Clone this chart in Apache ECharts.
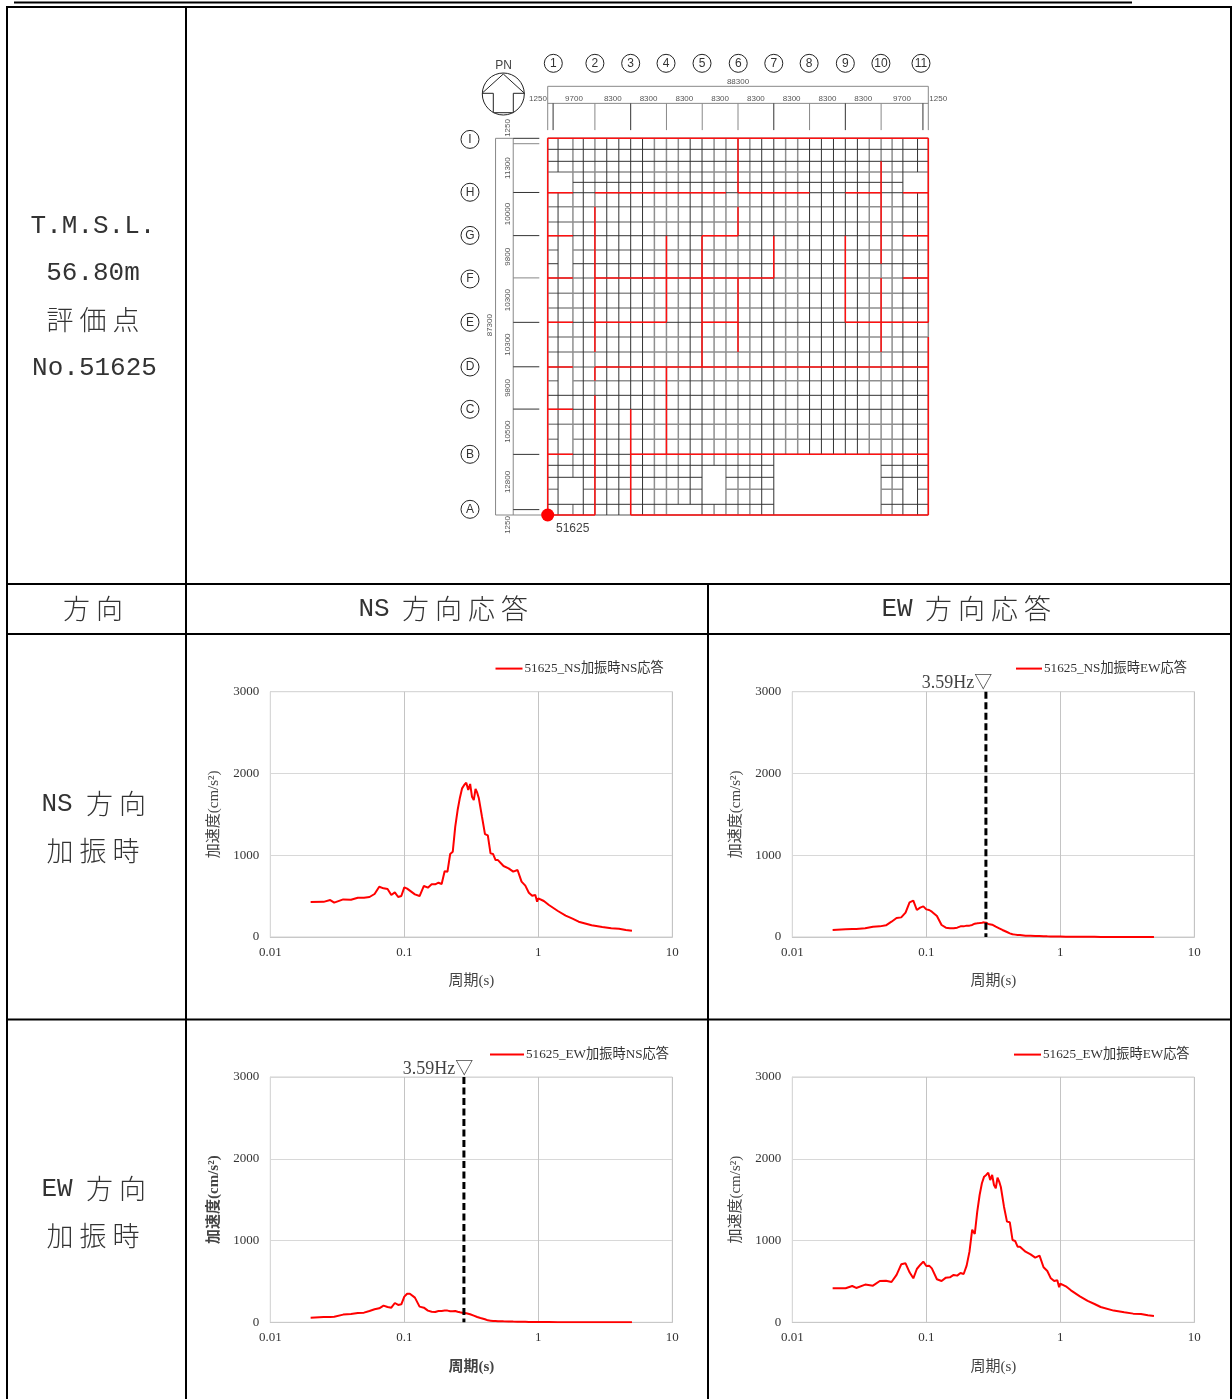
<!DOCTYPE html>
<html><head><meta charset="utf-8">
<style>html,body{margin:0;padding:0;background:#fff}#c{width:1232px;height:1399px}</style>
<script src="https://cdn.jsdelivr.net/npm/echarts@6/dist/echarts.min.js"></script>
</head><body><div id="c"></div>
<script>
// ---------- spectra ----------
const periods=[0.02,0.025,0.028,0.03,0.035,0.04,0.045,0.05,0.055,0.06,0.065,0.07,0.075,0.08,0.085,0.09,0.095,0.1,0.105,0.11,0.12,0.13,0.14,0.15,0.16,0.17,0.18,0.19,0.2,0.21,0.22,0.23,0.24,0.25,0.26,0.27,0.28,0.29,0.3,0.31,0.32,0.33,0.34,0.35,0.36,0.37,0.38,0.4,0.42,0.44,0.46,0.48,0.5,0.55,0.6,0.65,0.7,0.75,0.8,0.85,0.9,0.95,0.98,1,1.1,1.2,1.4,1.6,1.8,2,2.5,3,3.5,4,4.5,5];
const nsNs=[428,430,452,420,460,456,481,481,489,526,615,595,587,514,546,489,501,607,591,567,522,501,624,603,644,644,664,648,803,799,1015,1043,1349,1553,1704,1818,1859,1887,1797,1871,1716,1675,1810,1765,1696,1683,1471,1259,1243,1023,1015,941,941,868,840,799,819,677,628,542,505,514,432,473,440,391,318,261,224,187,143,122,106,102,86,77];
const nsEw=[86,94,98,98,106,126,130,143,187,232,240,298,424,444,330,359,375,338,330,310,257,147,114,106,106,114,130,130,139,139,147,163,167,171,175,179,175,159,155,151,143,126,118,106,94,86,77,61,45,33,29,24,24,16,14,12,12,10,8,7,6,5,5,5,4,3,2,2,2,1,1,1,1,1,0,0];
const ewNs=[57,65,65,69,94,102,114,118,139,159,171,204,187,179,236,212,220,314,350,350,302,192,179,143,130,126,139,139,143,143,135,135,139,130,122,118,114,110,106,98,90,82,69,65,57,53,49,37,24,20,16,16,14,12,11,9,8,7,6,5,5,4,4,4,3,3,2,2,1,1,1,1,1,0,0,0];
const ewEw=[416,416,444,420,461,448,505,509,493,579,709,721,611,538,652,701,742,689,693,660,526,505,546,550,579,571,603,591,693,864,1133,1080,1353,1557,1700,1781,1802,1830,1740,1802,1679,1639,1769,1720,1655,1639,1414,1231,1223,1007,995,925,925,864,831,791,815,673,628,538,505,514,428,473,440,391,318,261,224,187,143,122,106,102,86,77];
const seriesNames=['51625_NS加振時NS応答','51625_NS加振時EW応答','51625_EW加振時NS応答','51625_EW加振時EW応答'];
const markerHz=3.59;
const markerText='3.59Hz▽';

// ---------- floor plan, millimetres ----------
const planXs=[0,2400,5850,8250,10950,13700,16500,19250,22000,24750,27550,30300,33050,35800,38600,41350,44150,46900,49650,52450,55200,58000,60750,63500,66300,69050,71850,74600,77350,79900,82400,85800,88300];
const planYs=[0,2480,5960,8740,11520,14070,17540,21020,24500,27740,31120,34300,37780,41250,44660,47970,51380,54920,58240,61410,64730,67900,71450,74690,77100,79490,81970,84750,87300];
const xGrayIdx=[2,4,9,10,11,14,15,16,17,20,21,27,28,29,0,32];
const yGrayIdx=[0,2,6,7,10,11,12,13,15,16,17,19,21,22,25,28];
// gaps as [line index, from index, to index]
const xGaps=[[1,23,25],[31,23,25],[2,1,3],[11,0,1],[12,0,1],[14,1,4],[20,0,5],[21,0,5],[22,0,5],[23,0,5],[24,0,5],[25,0,5],[26,0,5],[27,0,5]];
const yGaps=[[24,0,2],[24,30,32],[19,1,2],[18,1,2],[10,1,2],[6,1,2],[2,1,3],[2,13,15],[3,13,15],[2,30,31],[1,19,28],[2,19,28],[3,19,28],[4,19,28]];
const redH=[[28,0,32],[0,0,4],[0,7,32],[23,0,2],[23,4,15],[23,16,22],[23,25,28],[23,30,32],[20,0,2],[20,13,16],[20,30,32],[17,0,2],[17,4,19],[17,30,32],[14,0,2],[14,4,10],[14,13,16],[14,25,32],[11,0,2],[11,4,32],[8,0,2],[5,0,2],[5,7,32]];
const redV=[[0,0,28],[32,0,13],[32,14,28],[4,0,9],[4,10,11],[4,12,22],[7,0,8],[10,5,11],[10,14,20],[13,11,20],[16,12,17],[16,20,22],[16,23,28],[19,17,20],[25,14,20],[28,12,17],[28,18,26]];
const spanX=[9700,8300,8300,8300,8300,8300,8300,8300,8300,9700];
const spanY=[12800,10500,9800,10300,10300,9800,10000,11300];
const edge=1250;
const colNames=['1','2','3','4','5','6','7','8','9','10','11'];
const colLabelX=[1300,10950,19250,27450,35800,44200,52450,60650,69050,77300,86600];
const rowNames=['A','B','C','D','E','F','G','H','I'];
const rowLabelY=[1320,14070,24500,34300,44660,54700,64800,74800,87050];
const pointName='51625';
const pointXY=[0,0];

const mono='"Liberation Mono","Noto Sans CJK JP"';
const cjk='"Noto Sans CJK JP"';
const serif='"Liberation Serif","Noto Sans CJK JP"';
const sans='"Liberation Sans","Noto Sans"';

const axisX=[edge];spanX.forEach(s=>axisX.push(axisX[axisX.length-1]+s));
const axisY=[edge];spanY.forEach(s=>axisY.push(axisY[axisY.length-1]+s));

function pieces(from,to,gaps){ // index runs left after taking gaps out
  let runs=[[from,to]];
  gaps.forEach(g=>{const out=[];runs.forEach(r=>{
    if(g[1]>=r[1]||g[2]<=r[0]){out.push(r);return;}
    if(g[1]>r[0])out.push([r[0],g[1]]);
    if(g[2]<r[1])out.push([g[2],r[1]]);
  });runs=out;});
  return runs;
}
const gray=[],dark=[],red=[];
const push=(arr,a,b)=>{arr.push(a,b,[null,null]);};
planXs.forEach((x,i)=>{
  const arr=xGrayIdx.includes(i)?gray:dark;
  pieces(0,28,xGaps.filter(g=>g[0]===i).map(g=>[0,g[1],g[2]])).forEach(r=>push(arr,[x,planYs[r[0]]],[x,planYs[r[1]]]));
});
planYs.forEach((y,i)=>{
  const arr=yGrayIdx.includes(i)?gray:dark;
  pieces(0,32,yGaps.filter(g=>g[0]===i).map(g=>[0,g[1],g[2]])).forEach(r=>push(arr,[planXs[r[0]],y],[planXs[r[1]],y]));
});
redH.forEach(s=>push(red,[planXs[s[1]],planYs[s[0]]],[planXs[s[2]],planYs[s[0]]]));
redV.forEach(s=>push(red,[planXs[s[0]],planYs[s[1]]],[planXs[s[0]],planYs[s[2]]]));

// dimension frames
const W=88300,H=87300,top1=99350,top2=95400,top3=89200,l1=-12100,l2=-8000,l3=-1950;
const dimGray=[],dimDark=[];
push(dimGray,[0,top1],[W,top1]);push(dimGray,[0,top1],[0,top3]);push(dimGray,[W,top1],[W,top3]);push(dimGray,[0,top2],[W,top2]);
axisX.forEach((x,i)=>push([1,3,4,5,7,9].includes(i)?dimGray:dimDark,[x,top2],[x,top3]));
push(dimGray,[l1,0],[l1,H]);push(dimGray,[l2,0],[l2,H]);push(dimGray,[l1,H],[l2,H]);push(dimGray,[l1,0],[0,0]);
push(dimDark,[l2,H],[l3,H]);
axisY.forEach((y,i)=>push([5,8].includes(i)?dimGray:dimDark,[l2,y],[l3,y]));

const topDims=[{value:[W/2,100500],t:'88300'},{value:[-2250,96400],t:String(edge)},{value:[90600,96400],t:String(edge)}];
spanX.forEach((s,i)=>topDims.push({value:[(axisX[i]+axisX[i+1])/2,96400],t:String(s)}));
const leftDims=[{value:[-9200,-2300],t:String(edge)},{value:[-9200,89700],t:String(edge)},{value:[-13500,44000],t:'87300'}];
spanY.forEach((s,i)=>leftDims.push({value:[-9200,(axisY[i]+axisY[i+1])/2],t:String(s)}));

const lineBase={type:'line',xAxisIndex:4,yAxisIndex:4,showSymbol:false,silent:true,animation:false,connectNulls:false,legendHoverLink:false};
const dimText={type:'scatter',xAxisIndex:4,yAxisIndex:4,symbolSize:0,silent:true,clip:false,itemStyle:{opacity:1}};

// ---------- four response charts ----------
const grids=[{left:270.3,top:691.7,width:402,height:245.3},{left:792.3,top:691.7,width:402,height:245.3},{left:270.3,top:1077,width:402,height:245.3},{left:792.3,top:1077,width:402,height:245.3}];
const values=[nsNs,nsEw,ewNs,ewEw];
const legendSpots=[{x:495.5,y:662,w:27},{x:1016,y:662,w:26},{x:490,y:1048,w:34},{x:1014,y:1048,w:27}];
const markerOn=[false,true,true,false];
const markerShift=[0,-29,-26,0];
const boldNames=[false,false,true,false];
const xAxes=[],yAxes=[],series=[],legends=[];
grids.forEach((g,i)=>{
  const nameW=boldNames[i]?'bold':'normal';
  xAxes.push({gridIndex:i,type:'log',logBase:10,min:0.01,max:10,name:'周期(s)',nameLocation:'middle',nameGap:37,
    nameTextStyle:{fontFamily:serif,fontSize:15,color:'#444',fontWeight:nameW},
    axisLine:{show:true,lineStyle:{color:'#c8c8c8',width:1}},axisTick:{show:false},minorTick:{show:false},
    axisLabel:{fontFamily:serif,fontSize:13,color:'#333',margin:9,showMinLabel:true,showMaxLabel:true},
    splitLine:{show:true,lineStyle:{color:'#c4c4c4',width:1}},minorSplitLine:{show:false}});
  yAxes.push({gridIndex:i,type:'value',min:0,max:3000,interval:1000,name:'加速度(cm/s²)',nameLocation:'middle',nameGap:49,
    nameTextStyle:{fontFamily:serif,fontSize:15,color:'#444',fontWeight:nameW},
    axisLine:{show:true,lineStyle:{color:'#d8d8d8',width:1}},axisTick:{show:false},
    axisLabel:{fontFamily:serif,fontSize:13,color:'#333',margin:11,formatter:v=>String(v)},
    splitLine:{show:true,lineStyle:{color:'#d8d8d8',width:1}}});
  series.push({type:'line',name:seriesNames[i],xAxisIndex:i,yAxisIndex:i,showSymbol:false,animation:false,z:5,
    lineStyle:{color:'#ff0000',width:2},itemStyle:{color:'#ff0000'},
    data:periods.map((t,k)=>[t,values[i][k]])});
  legends.push({show:true,data:[seriesNames[i]],left:legendSpots[i].x,top:legendSpots[i].y,icon:'rect',itemWidth:legendSpots[i].w,itemHeight:2,itemGap:2,padding:0,
    selectedMode:false,textStyle:{fontFamily:serif,fontSize:13.2,color:'#333',padding:[0,0,0,-3]}});
  if(markerOn[i]){
    const T=1/markerHz;
    series.push({type:'line',xAxisIndex:i,yAxisIndex:i,showSymbol:false,animation:false,z:6,silent:true,
      lineStyle:{color:'#000',width:3,type:[7,3.5]},data:[[T,3000],[T,0]]});
    series.push({type:'scatter',xAxisIndex:i,yAxisIndex:i,symbolSize:0,animation:false,silent:true,z:7,clip:false,
      data:[[T,3000]],label:{show:true,position:'top',distance:1,offset:[markerShift[i],2],formatter:markerText,fontFamily:serif,fontSize:18,color:'#111'}});
  }
});

// plan axes (index 4)
xAxes.push({gridIndex:4,type:'value',min:-20000,max:96000,show:false});
yAxes.push({gridIndex:4,type:'value',min:-6000,max:108000,show:false});
series.push(
 {...lineBase,data:gray,z:1,lineStyle:{color:'#8f8f8f',width:1.5}},
 {...lineBase,data:dark,z:2,lineStyle:{color:'#333333',width:1}},
 {...lineBase,data:red,z:3,lineStyle:{color:'#ff1010',width:1.5}},
 {...lineBase,data:dimGray,z:1,lineStyle:{color:'#888888',width:1}},
 {...lineBase,data:dimDark,z:1,lineStyle:{color:'#333333',width:1}},
 {...dimText,data:topDims,label:{show:true,position:'inside',formatter:p=>p.data.t,fontFamily:sans,fontSize:8,color:'#555'}},
 {...dimText,data:leftDims,label:{show:true,position:'inside',rotate:90,formatter:p=>p.data.t,fontFamily:sans,fontSize:8,color:'#555'}},
 {...dimText,symbol:'circle',symbolSize:18,z:4,itemStyle:{color:'#fff',borderColor:'#222',borderWidth:1,opacity:1},
   data:colNames.map((n,i)=>({value:[colLabelX[i],104680],t:n})),label:{show:true,position:'inside',formatter:p=>p.data.t,fontFamily:sans,fontSize:12,color:'#333'}},
 {...dimText,symbol:'circle',symbolSize:18,z:4,itemStyle:{color:'#fff',borderColor:'#222',borderWidth:1,opacity:1},
   data:rowNames.map((n,i)=>({value:[-18030,rowLabelY[i]],t:n})),label:{show:true,position:'inside',formatter:p=>p.data.t,fontFamily:sans,fontSize:12,color:'#333'}},
 {...dimText,symbol:'circle',symbolSize:13,z:8,itemStyle:{color:'#ff0000',opacity:1},data:[pointXY],
   label:{show:true,position:'bottom',distance:1,offset:[25,0],formatter:pointName,fontFamily:sans,fontSize:12,color:'#444'}}
);

// ---------- table and decoration ----------
const tl=(x1,y1,x2,y2,w)=>({type:'line',silent:true,z:20,shape:{x1,y1,x2,y2},style:{stroke:'#000',lineWidth:w||2}});
const txt=(x,y,t,size,fam)=>({type:'text',silent:true,z:20,x,y,style:{text:t,fontSize:size,fontFamily:fam,fill:'#333',align:'center',verticalAlign:'middle',fontWeight:fam===cjk?300:'normal'}});
const graphic=[
 tl(14,2.5,1132,2.5),tl(6,7,1232,7),tl(7,6,7,1399),tl(186,7,186,1399),tl(1231,6,1231,1399),
 tl(7,584,1232,584),tl(7,634,1232,634),tl(7,1019.5,1232,1019.5),tl(708,584,708,1399),
 txt(93,226,'T.M.S.L.',26,mono),txt(93,273,'56.80m',26,mono),txt(93,320,'評 価 点',27,cjk),txt(94.5,368.5,'No.51625',26,mono),
 txt(93,609,'方 向',27,cjk),
 txt(374,609,'NS',26,mono),txt(465,609,'方 向 応 答',27,cjk),
 txt(897,609,'EW',26,mono),txt(988,609,'方 向 応 答',27,cjk),
 txt(57,804,'NS',26,mono),txt(116,804,'方 向',27,cjk),txt(93,851,'加 振 時',27,cjk),
 txt(57,1189,'EW',26,mono),txt(116,1189,'方 向',27,cjk),txt(93,1236,'加 振 時',27,cjk),
 {type:'text',silent:true,z:20,x:503.5,y:65.5,style:{text:'PN',fontSize:12,fontFamily:sans,fill:'#444',align:'center',verticalAlign:'middle'}},
 {type:'circle',silent:true,z:20,shape:{cx:503.3,cy:94,r:21},style:{fill:'#fff',stroke:'#222',lineWidth:1}},
 {type:'polyline',silent:true,z:21,shape:{points:[[493.3,112.7],[493.3,93.3],[482,93.3],[503.3,74],[524.5,93.3],[513.3,93.3],[513.3,112.7],[493.3,112.7]]},style:{fill:'#fff',stroke:'#222',lineWidth:1}}
];

const chart=echarts.init(document.getElementById('c'),null,{renderer:'canvas'});
chart.setOption({animation:false,backgroundColor:'#fff',
  grid:[...grids.map(g=>({...g,show:true,borderColor:'#d0d0d0',borderWidth:1,containLabel:false})),
    {left:461.5,top:49,width:500,height:491.9,show:false}],
  xAxis:xAxes,yAxis:yAxes,legend:legends,series,graphic});
</script></body></html>
